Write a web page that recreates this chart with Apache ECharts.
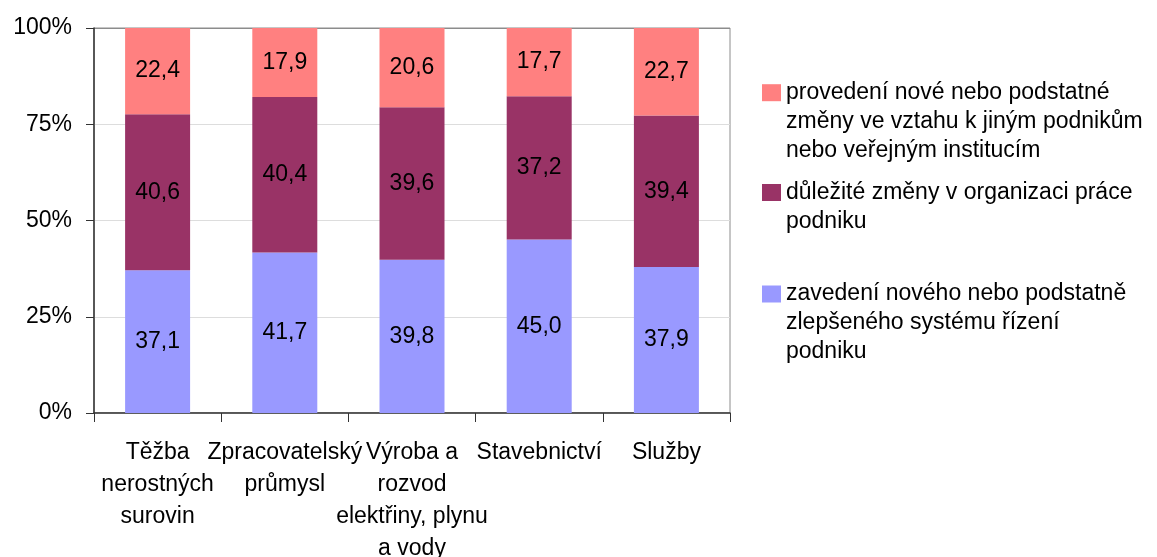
<!DOCTYPE html>
<html>
<head>
<meta charset="utf-8">
<script src="https://cdn.jsdelivr.net/npm/echarts@6/dist/echarts.min.js"></script>
<style>
  html, body { margin: 0; padding: 0; background: #fff; }
  #chart { width: 1157px; height: 557px; }
</style>
</head>
<body>
<div id="chart"></div>
<script>
// 类别
const categories = ['Těžba\nnerostných\nsurovin', 'Zpracovatelský\nprůmysl', 'Výroba a\nrozvod\nelektřiny, plynu\na vody', 'Stavebnictví', 'Služby'];

// 系列名称
const seriesNames = [
  'zavedení nového nebo podstatně zlepšeného systému řízení podniku',
  'důležité změny v organizaci práce podniku',
  'provedení nové nebo podstatné změny ve vztahu k jiným podnikům nebo veřejným institucím'
];

// 图例换行文本
const legendLines = [
  ['zavedení nového nebo podstatně', 'zlepšeného systému řízení', 'podniku'],
  ['důležité změny v organizaci práce', 'podniku'],
  ['provedení nové nebo podstatné', 'změny ve vztahu k jiným podnikům', 'nebo veřejným institucím']
];

// 数值
const systemValues = [37.1, 41.7, 39.8, 45.0, 37.9];
const organizationValues = [40.6, 40.4, 39.6, 37.2, 39.4];
const relationValues = [22.4, 17.9, 20.6, 17.7, 22.7];

// 刻度
const yTicks = [0, 25, 50, 75, 100];

// 颜色
const colors = ['#9999FF', '#993366', '#FF8080'];

const font = '"Liberation Sans", Arial, sans-serif';
const fontSize = 23;
const valueSets = [systemValues, organizationValues, relationValues];

// 百分比堆叠
const totals = categories.map((c, i) => valueSets.reduce((s, arr) => s + arr[i], 0));
const shareOf = arr => arr.map((v, i) => v / totals[i] * 100);

const chart = echarts.init(document.getElementById('chart'));

// 图例：每项单独放，首行与色块对齐（前面补空行）
const lineH = 29;
const iconCenters = [294, 192.5, 92.7];
const legends = seriesNames.map((name, k) => {
  const n = legendLines[k].length;
  return {
    orient: 'vertical',
    left: 762,
    top: iconCenters[k] - (2 * n - 1) * lineH / 2,
    padding: 0,
    itemWidth: 19,
    itemHeight: 17,
    itemGap: 0,
    icon: 'rect',
    selectedMode: false,
    data: [name],
    formatter: () => '\n'.repeat(n - 1) + legendLines[k].join('\n'),
    textStyle: { fontSize: fontSize, lineHeight: lineH, color: '#000', fontFamily: font }
  };
});

chart.setOption({
  animation: false,
  textStyle: { fontFamily: font },
  grid: {
    left: 94,
    right: 427,
    top: 28,
    bottom: 144,
    outerBoundsMode: 'none',
    containLabel: false,
    show: true,
    borderColor: '#8c8c8c',
    borderWidth: 1
  },
  legend: legends,
  xAxis: {
    type: 'category',
    data: categories,
    axisLine: { lineStyle: { color: '#333', width: 1.5 } },
    axisTick: { show: true, length: 9, interval: 0, lineStyle: { color: '#333' } },
    axisLabel: {
      interval: 0,
      margin: 24,
      fontSize: fontSize,
      lineHeight: 32,
      color: '#000',
      fontFamily: font
    }
  },
  yAxis: {
    type: 'value',
    min: 0,
    max: 100,
    interval: 25,
    axisLine: { show: true, lineStyle: { color: '#333', width: 1.5 } },
    axisTick: { show: true, length: 8, lineStyle: { color: '#333' } },
    axisLabel: {
      margin: 22,
      fontSize: fontSize,
      color: '#000',
      fontFamily: font,
      formatter: v => (yTicks.includes(v) ? v + '%' : '')
    },
    splitLine: { lineStyle: { color: ['#dddddd', '#dddddd', '#dddddd', '#dddddd', '#8c8c8c'] } }
  },
  series: seriesNames.map((name, k) => ({
    name: name,
    type: 'bar',
    stack: 'total',
    barWidth: 65,
    itemStyle: { color: colors[k] },
    label: {
      show: true,
      position: 'inside',
      color: '#000',
      fontSize: fontSize,
      fontFamily: font,
      formatter: p => valueSets[k][p.dataIndex].toFixed(1).replace('.', ',')
    },
    data: shareOf(valueSets[k])
  }))
});
</script>
</body>
</html>
